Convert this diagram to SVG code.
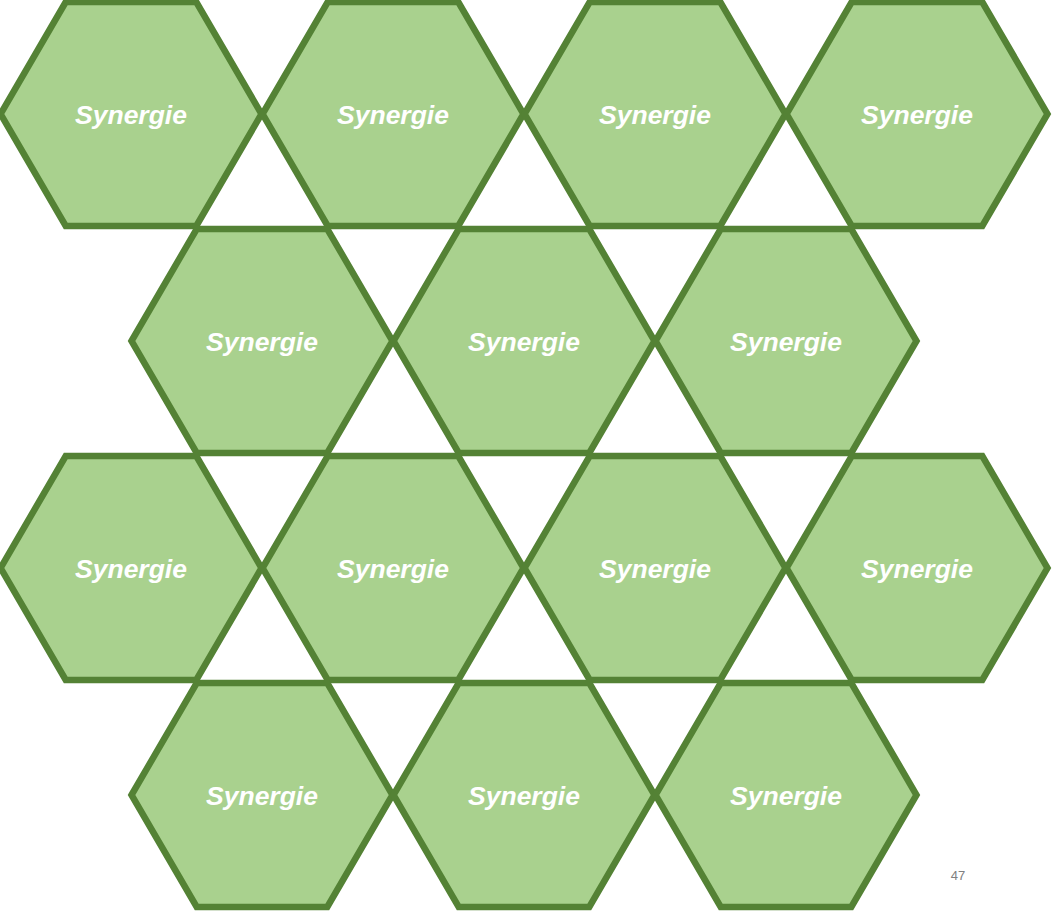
<svg xmlns="http://www.w3.org/2000/svg" width="1054" height="917" viewBox="0 0 1054 917">
<defs>
<style>
.hex{fill:#A9D18E;stroke:#548235;stroke-width:6.5;stroke-linejoin:miter}
.lbl{font-family:"Liberation Sans",Arial,sans-serif;font-weight:bold;font-style:italic;font-size:26.5px;fill:#FFFFFF;text-anchor:middle}
.pg{font-family:"Liberation Sans",Arial,sans-serif;font-size:13px;fill:#808080;text-anchor:middle}
</style>
<polygon id="hx" class="hex" points="-130.5,0 -65.3,-112 65.3,-112 130.5,0 65.3,112 -65.3,112"/>
</defs>
<rect width="1054" height="917" fill="#FFFFFF"/>
<g id="row1">
<g id="n1" transform="translate(131,114)"><use href="#hx"/><text class="lbl" y="10">Synergie</text></g>
<g id="n2" transform="translate(393,114)"><use href="#hx"/><text class="lbl" y="10">Synergie</text></g>
<g id="n3" transform="translate(655,114)"><use href="#hx"/><text class="lbl" y="10">Synergie</text></g>
<g id="n4" transform="translate(917,114)"><use href="#hx"/><text class="lbl" y="10">Synergie</text></g>
</g>
<g id="row2">
<g id="n5" transform="translate(262,341)"><use href="#hx"/><text class="lbl" y="10">Synergie</text></g>
<g id="n6" transform="translate(524,341)"><use href="#hx"/><text class="lbl" y="10">Synergie</text></g>
<g id="n7" transform="translate(786,341)"><use href="#hx"/><text class="lbl" y="10">Synergie</text></g>
</g>
<g id="row3">
<g id="n8" transform="translate(131,568)"><use href="#hx"/><text class="lbl" y="10">Synergie</text></g>
<g id="n9" transform="translate(393,568)"><use href="#hx"/><text class="lbl" y="10">Synergie</text></g>
<g id="n10" transform="translate(655,568)"><use href="#hx"/><text class="lbl" y="10">Synergie</text></g>
<g id="n11" transform="translate(917,568)"><use href="#hx"/><text class="lbl" y="10">Synergie</text></g>
</g>
<g id="row4">
<g id="n12" transform="translate(262,795)"><use href="#hx"/><text class="lbl" y="10">Synergie</text></g>
<g id="n13" transform="translate(524,795)"><use href="#hx"/><text class="lbl" y="10">Synergie</text></g>
<g id="n14" transform="translate(786,795)"><use href="#hx"/><text class="lbl" y="10">Synergie</text></g>
</g>
<g id="connectors"></g>
<text class="pg" x="958" y="880">47</text>
</svg>
